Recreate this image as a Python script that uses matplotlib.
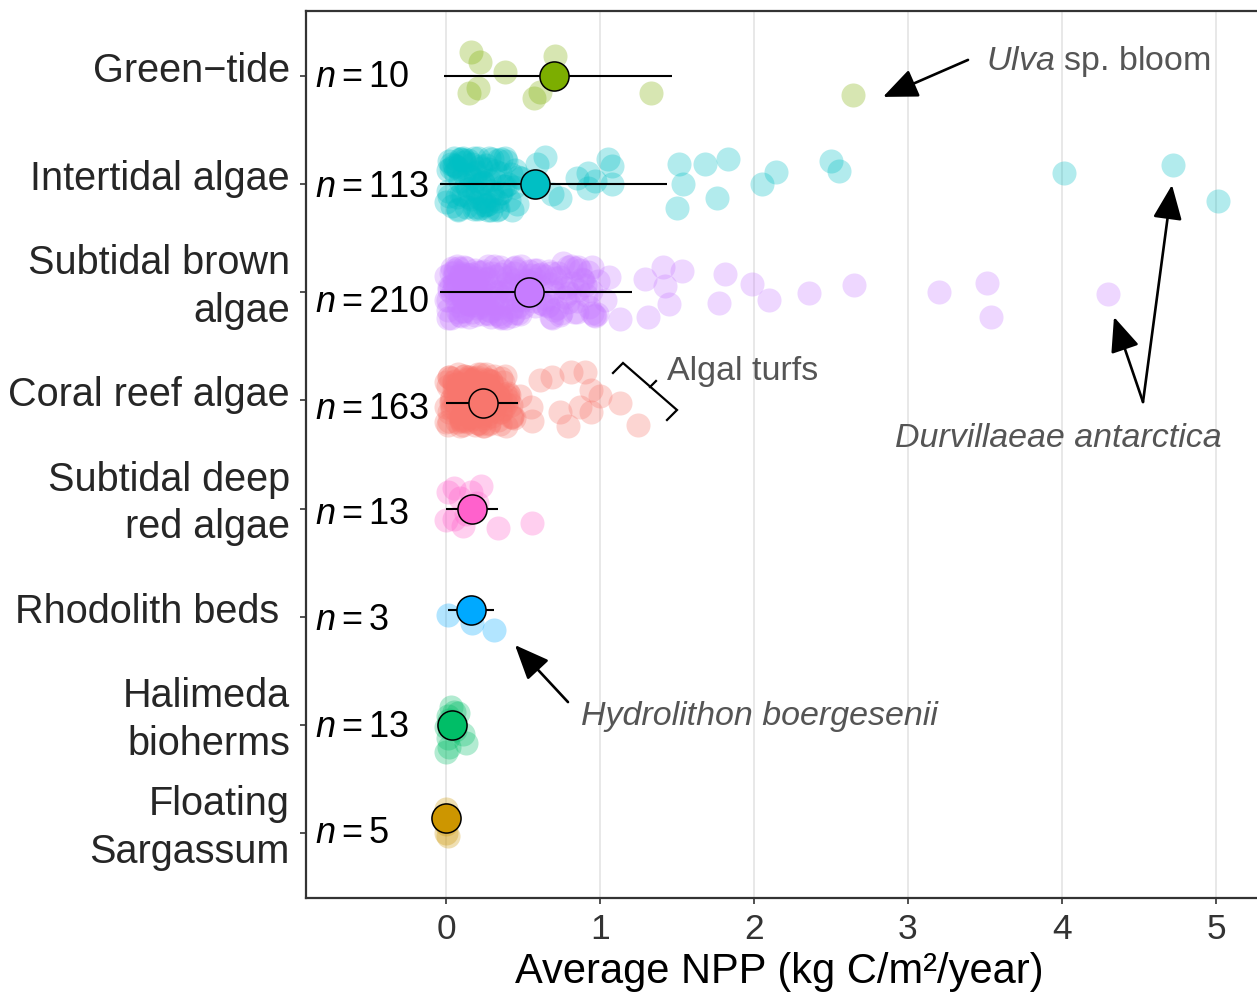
import matplotlib
matplotlib.use('Agg')
import matplotlib.pyplot as plt
import matplotlib.transforms as mtransforms

plt.rcParams['font.family'] = ['Liberation Sans', 'DejaVu Sans']
plt.rcParams['mathtext.fontset'] = 'custom'
plt.rcParams['mathtext.rm'] = 'Liberation Sans'
plt.rcParams['mathtext.it'] = 'Liberation Sans:italic'
plt.rcParams['mathtext.bf'] = 'Liberation Sans:bold'

# ---------------- data (top to bottom) ----------------
categories = ["Green\u2212tide", "Intertidal algae", "Subtidal brown\nalgae", "Coral reef algae",
              "Subtidal deep\nred algae", "Rhodolith beds ", "Halimeda\nbioherms", "Floating\nSargassum"]
n_obs = [10, 113, 210, 163, 13, 3, 13, 5]
colors = ["#7CAE00", "#00BFC4", "#C77CFF", "#F8766D", "#FF61CC", "#00A9FF", "#00BE67", "#CD9600"]
means = [0.70, 0.578, 0.54, 0.24, 0.17, 0.16, 0.04, 0.00]
ci_low = [-0.01, -0.04, -0.04, 0.00, 0.00, 0.01, 0.04, 0.00]
ci_high = [1.47, 1.435, 1.21, 0.47, 0.34, 0.31, 0.04, 0.00]
mean_nudge = [0.0, 0.0, 0.0, -0.02, 0.0, 0.065, 0.0, 0.14]

gt_npp = [0.16, 0.22, 0.38, 0.71, 0.15, 0.21, 0.57, 0.61, 1.33, 2.64]
gt_jit = [0.22, 0.13, 0.04, 0.18, -0.16, -0.11, -0.20, -0.15, -0.16, -0.18]

it_npp = [0.02, 0.15, 0.31, 0.08, 0.22, 0.44, 0.05, 0.27, 0.12, 0.36,
          0.19, 0.01, 0.33, 0.24, 0.09, 0.41, 0.17, 0.29, 0.06, 0.38,
          0.13, 0.25, 0.47, 0.03, 0.21, 0.34, 0.11, 0.28, 0.16, 0.40,
          0.07, 0.23, 0.35, 0.14, 0.30, 0.00, 0.19, 0.43, 0.26, 0.10,
          0.32, 0.04, 0.18, 0.37, 0.22, 0.12, 0.49, 0.27, 0.08, 0.20,
          0.33, 0.15, 0.02, 0.39, 0.24, 0.11, 0.29, 0.06, 0.17, 0.45,
          0.21, 0.35, 0.09, 0.26, 0.14, 0.31, 0.03, 0.42, 0.18, 0.23,
          0.07, 0.36, 0.13, 0.28, 0.01, 0.20, 0.34, 0.10, 0.25, 0.16,
          0.38, 0.05, 0.30, 0.12, 0.46, 0.22, 0.08, 0.27, 0.19,
          0.64, 0.59, 0.85, 0.92, 0.97, 1.05, 1.08, 1.08, 0.92, 0.74, 0.69,
          1.51, 1.68, 1.83, 1.54, 1.76, 1.50, 2.05, 2.14, 2.50, 2.55, 4.01, 4.72, 5.01]
it_jit = [0.21, -0.12, 0.05, -0.24, 0.17, -0.03, 0.24, -0.18, 0.09, -0.08,
          -0.21, 0.13, -0.24, 0.02, 0.23, -0.15, 0.19, -0.06, 0.11, 0.24,
          -0.01, -0.19, 0.07, 0.15, -0.23, 0.22, -0.10, 0.24, -0.14, 0.00,
          0.16, -0.22, 0.10, -0.05, 0.23, -0.17, 0.04, -0.24, 0.18, -0.09,
          0.12, -0.20, 0.24, -0.02, -0.13, 0.20, 0.06, -0.24, 0.14, -0.07,
          -0.16, 0.08, -0.11, 0.21, 0.01, 0.24, -0.24, 0.17, -0.04, 0.13,
          0.24, -0.08, 0.03, -0.19, 0.22, -0.14, 0.19, 0.09, -0.23, 0.15,
          -0.12, 0.23, -0.21, 0.04, -0.06, 0.11, -0.23, 0.23, -0.16, 0.07,
          -0.02, 0.18, -0.10, 0.22, -0.18, 0.00, -0.23, 0.14, 0.10,
          0.25, 0.19, 0.06, 0.10, 0.03, 0.23, 0.17, 0.00, -0.04, -0.13, -0.09,
          0.19, 0.19, 0.23, 0.00, -0.13, -0.22, 0.00, 0.11, 0.21, 0.12, 0.10, 0.18, -0.16]

sb_npp = [0.03, 0.18, 0.41, 0.09, 0.27, 0.55, 0.12, 0.34, 0.06, 0.22,
          0.47, 0.15, 0.01, 0.38, 0.25, 0.58, 0.10, 0.31, 0.19, 0.44,
          0.04, 0.29, 0.52, 0.13, 0.36, 0.21, 0.07, 0.49, 0.16, 0.33,
          0.00, 0.24, 0.42, 0.11, 0.57, 0.28, 0.05, 0.39, 0.17, 0.46,
          0.20, 0.08, 0.35, 0.53, 0.14, 0.30, 0.02, 0.43, 0.26, 0.11,
          0.50, 0.19, 0.37, 0.06, 0.23, 0.59, 0.15, 0.32, 0.09, 0.45,
          0.27, 0.01, 0.40, 0.12, 0.54, 0.21, 0.35, 0.07, 0.48, 0.18,
          0.30, 0.04, 0.44, 0.16, 0.25, 0.56, 0.10, 0.38, 0.22, 0.03,
          0.51, 0.14, 0.33, 0.08, 0.42, 0.26, 0.19, 0.58, 0.05, 0.36,
          0.12, 0.47, 0.23, 0.00, 0.31, 0.17, 0.54, 0.09, 0.40, 0.28,
          0.06, 0.37, 0.20, 0.49, 0.13, 0.29, 0.02, 0.45, 0.24, 0.15,
          0.57, 0.10, 0.34, 0.18, 0.43, 0.07, 0.26, 0.52, 0.11, 0.39,
          0.21, 0.03, 0.46, 0.16, 0.32, 0.08, 0.55, 0.27, 0.13, 0.41,
          0.01, 0.24, 0.50, 0.19, 0.35, 0.05, 0.29, 0.14, 0.44, 0.22,
          0.61, 0.74, 0.88, 0.66, 0.95, 0.70, 0.83, 0.62, 0.79, 0.92,
          0.68, 0.86, 0.64, 0.77, 0.99, 0.72, 0.81, 0.63, 0.90, 0.75,
          0.67, 0.85, 0.97, 0.71, 0.80, 0.60, 0.93, 0.76, 0.69, 0.84,
          0.65, 0.89, 0.73, 0.98, 0.78, 0.62, 0.87, 0.70, 0.82, 0.94,
          0.66, 0.79, 0.91, 0.74, 0.85, 0.68, 0.96,
          1.41, 1.53, 1.81, 1.99, 1.77, 2.10, 2.36, 2.65, 3.20, 3.51, 3.54, 4.30,
          1.29, 1.42, 1.45, 1.31, 1.13, 1.03, 0.95, 1.06, 0.86, 0.76, 0.68]
sb_jit = [0.18, -0.09, 0.04, -0.21, 0.13, -0.02, 0.23, -0.15, 0.08, -0.06,
          -0.19, 0.11, -0.24, 0.01, 0.20, -0.13, 0.16, -0.05, 0.09, 0.22,
          -0.01, -0.17, 0.06, 0.14, -0.23, 0.19, -0.08, 0.24, -0.12, 0.00,
          0.15, -0.20, 0.08, -0.04, 0.21, -0.16, 0.03, -0.24, 0.17, -0.07,
          0.10, -0.18, 0.23, -0.02, -0.11, 0.18, 0.05, -0.22, 0.12, -0.06,
          -0.14, 0.07, -0.10, 0.19, 0.01, 0.21, -0.23, 0.15, -0.03, 0.11,
          0.24, -0.07, 0.02, -0.17, 0.20, -0.12, 0.17, 0.08, -0.20, 0.13,
          -0.10, 0.22, -0.19, 0.03, -0.05, 0.09, -0.22, 0.20, -0.14, 0.06,
          -0.02, 0.16, -0.09, 0.22, -0.16, 0.00, -0.21, 0.12, 0.09, -0.24,
          0.04, -0.13, 0.19, -0.07, 0.24, -0.18, 0.10, -0.01, 0.14, -0.20,
          0.21, -0.04, -0.15, 0.07, 0.17, -0.23, 0.02, 0.23, -0.11, 0.12,
          -0.08, 0.18, -0.20, 0.05, -0.14, 0.24, -0.03, 0.11, -0.17, 0.08,
          0.13, -0.24, 0.20, -0.06, 0.01, -0.12, 0.16, -0.19, 0.22, -0.01,
          -0.16, 0.09, -0.07, 0.21, -0.22, 0.14, 0.03, -0.10, 0.18, -0.05,
          0.06, -0.21, 0.12, -0.13, 0.23, 0.00, -0.18, 0.17, -0.09, 0.19,
          -0.23, 0.02, 0.15, -0.04, 0.10, -0.15, 0.24, -0.11, 0.07, -0.19,
          0.20, -0.08, -0.22, 0.13, -0.01, 0.16, -0.14, 0.05, -0.24, 0.22,
          -0.06, 0.11, 0.18, -0.20, 0.04, -0.10, 0.21, -0.16, 0.09, 0.01,
          -0.12, 0.23, -0.03, 0.14, -0.18, 0.08, -0.21,
          0.23, 0.20, 0.17, 0.08, -0.10, -0.07, -0.01, 0.07, 0.00, 0.09, -0.23, -0.02,
          0.12, 0.06, -0.11, -0.23, -0.25, -0.07, -0.19, 0.14, 0.23, 0.27, 0.18]

cr_npp = [0.02, 0.14, 0.31, 0.07, 0.22, 0.40, 0.10, 0.26, 0.04, 0.18,
          0.35, 0.12, 0.00, 0.28, 0.20, 0.43, 0.08, 0.24, 0.15, 0.33,
          0.05, 0.21, 0.38, 0.11, 0.27, 0.16, 0.03, 0.36, 0.13, 0.25,
          0.01, 0.19, 0.30, 0.09, 0.42, 0.23, 0.06, 0.29, 0.14, 0.34,
          0.17, 0.07, 0.26, 0.39, 0.12, 0.22, 0.02, 0.32, 0.20, 0.10,
          0.37, 0.16, 0.28, 0.05, 0.19, 0.44, 0.12, 0.24, 0.08, 0.33,
          0.21, 0.00, 0.30, 0.10, 0.40, 0.17, 0.27, 0.06, 0.35, 0.14,
          0.23, 0.03, 0.32, 0.13, 0.20, 0.41, 0.09, 0.29, 0.18, 0.02,
          0.38, 0.11, 0.25, 0.07, 0.31, 0.21, 0.15, 0.43, 0.04, 0.27,
          0.10, 0.34, 0.19, 0.01, 0.24, 0.14, 0.39, 0.08, 0.30, 0.22,
          0.05, 0.28, 0.16, 0.36, 0.11, 0.23, 0.02, 0.33, 0.19, 0.13,
          0.42, 0.09, 0.26, 0.15, 0.31, 0.06, 0.21, 0.37, 0.10, 0.29,
          0.18, 0.03, 0.34, 0.13, 0.25, 0.07, 0.40, 0.20, 0.12, 0.30,
          0.00, 0.19, 0.36, 0.16, 0.27, 0.04, 0.23, 0.11, 0.32, 0.17,
          0.08, 0.22, 0.14, 0.29, 0.05, 0.35, 0.18, 0.26,
          0.61, 0.69, 0.81, 0.90, 0.94, 1.00, 1.13, 0.94, 0.87, 0.74, 0.79, 0.56, 1.25, 0.55, 0.48]
cr_jit = [-0.11, 0.20, -0.03, 0.15, -0.22, 0.07, -0.16, 0.24, -0.06, 0.12,
          0.02, -0.19, 0.17, -0.09, 0.22, -0.14, 0.05, -0.24, 0.19, -0.01,
          0.10, -0.21, 0.23, -0.05, 0.14, -0.17, 0.00, 0.21, -0.12, 0.08,
          -0.23, 0.16, -0.07, 0.11, -0.15, 0.24, -0.02, 0.18, -0.20, 0.04,
          0.13, -0.10, 0.20, -0.24, 0.06, -0.13, 0.22, -0.04, 0.16, -0.18,
          -0.08, 0.09, -0.21, 0.17, 0.01, -0.16, 0.23, -0.11, 0.12, -0.02,
          0.24, -0.06, 0.14, -0.19, 0.03, 0.19, -0.13, 0.07, -0.22, 0.15,
          -0.14, 0.21, -0.01, -0.18, 0.10, 0.05, -0.24, 0.18, -0.09, 0.22,
          0.06, -0.12, 0.16, -0.20, 0.23, -0.05, 0.11, -0.15, 0.02, 0.19,
          -0.17, 0.04, -0.23, 0.13, -0.08, 0.20, -0.03, 0.24, -0.14, 0.09,
          0.18, -0.22, 0.08, -0.11, 0.15, -0.01, -0.19, 0.12, 0.21, -0.07,
          -0.04, 0.14, -0.16, 0.22, -0.10, 0.03, -0.21, 0.17, -0.12, 0.10,
          0.20, -0.02, -0.18, 0.07, -0.24, 0.16, 0.00, -0.13, 0.23, -0.06,
          -0.20, 0.11, 0.05, -0.15, 0.19, -0.09, 0.13, -0.23, 0.01, 0.17,
          0.09, -0.17, 0.22, -0.05, 0.14, -0.11, 0.18, -0.08,
          0.19, 0.22, 0.26, 0.26, 0.10, 0.04, -0.02, -0.11, -0.06, -0.11, -0.24, -0.19, -0.23, -0.06, 0.04]

sd_npp = [0.01, 0.09, 0.16, 0.23, 0.00, 0.11, 0.34, 0.56, 0.05, 0.17, 0.20, 0.13, 0.05]
sd_jit = [0.15, 0.10, 0.15, 0.21, -0.11, -0.16, -0.18, -0.13, 0.19, 0.00, 0.05, -0.05, -0.10]

rb_npp = [0.01, 0.17, 0.31]
rb_jit = [0.02, -0.06, -0.12]

hb_npp = [0.03, 0.08, 0.00, 0.11, 0.13, 0.00, 0.01, 0.02, 0.05, 0.04, 0.06, 0.02, 0.01]
hb_jit = [0.17, 0.11, -0.02, -0.08, -0.17, -0.25, -0.12, 0.05, 0.12, 0.00, -0.05, -0.20, 0.08]

fs_npp = [0.00, 0.01, 0.00, 0.00, 0.01]
fs_jit = [0.22, 0.15, 0.08, 0.00, -0.03]

point_sets = [(gt_npp, gt_jit), (it_npp, it_jit), (sb_npp, sb_jit), (cr_npp, cr_jit),
              (sd_npp, sd_jit), (rb_npp, rb_jit), (hb_npp, hb_jit), (fs_npp, fs_jit)]

# ---------------- figure ----------------
W, H = 1257, 992
DPI = 100
fig = plt.figure(figsize=(W / DPI, H / DPI), dpi=DPI)
ax = fig.add_axes([306 / W, 1 - 898 / H, (1262 - 306) / W, (898 - 11) / H])

ncat = len(categories)
ypos = [ncat - i for i in range(ncat)]

for i, (vals, jit) in enumerate(point_sets):
    ys = [ypos[i] + j for j in jit]
    ax.scatter(vals, ys, s=300, color=colors[i], alpha=0.3, linewidths=0, zorder=2)

def shifted(trans, dy_px):
    # shift downward by dy_px pixels
    return trans + mtransforms.ScaledTranslation(0, -dy_px / DPI, fig.dpi_scale_trans)

n_label_drop = [11, 13, 20, 19, 15, 13, 12, 10]   # baseline offset of n labels (px)
for i in range(ncat):
    y = ypos[i] + mean_nudge[i]
    ax.plot([ci_low[i], ci_high[i]], [y, y], color='black', lw=1.5, zorder=3,
            solid_capstyle='butt')
    ax.scatter([means[i]], [y], s=440, color=colors[i], edgecolors='black',
               linewidths=1.1, zorder=4)
    ax.text(-0.85, ypos[i], r'$n=%d$' % n_obs[i], ha='left', va='baseline',
            fontsize=26, color='black', zorder=5,
            transform=shifted(ax.transData, n_label_drop[i]))

# category labels (drawn line by line to match spacing)
lab_trans = mtransforms.blended_transform_factory(fig.transFigure, ax.transData)
line_gap = 47.5
for i, lab in enumerate(categories):
    lines = lab.split('\n')
    L = len(lines)
    for k, line in enumerate(lines):
        drop = 6 + (k - (L - 1) / 2) * line_gap
        fig.text(290 / W, ypos[i], line, ha='right', va='baseline', fontsize=28.5,
                 color='#262626', transform=shifted(lab_trans, drop))

ax.set_xlim(-0.909, (1262 - 446) / 154)
ax.set_ylim(0.4, 8.6)
ax.set_xticks([0, 1, 2, 3, 4, 5])
ax.set_xticklabels(['0', '1', '2', '3', '4', '5'])
ax.set_yticks(ypos)
ax.set_yticklabels([])
ax.tick_params(axis='y', length=4.5, width=1.2, color='#333333')
ax.tick_params(axis='x', length=4.5, width=1.2, color='#333333', pad=6,
               labelsize=25.5, labelcolor='#333333')
ax.grid(axis='x', color='#e6e6e6', lw=1.3, zorder=0)
ax.set_axisbelow(True)
for side in ['left', 'top', 'bottom']:
    ax.spines[side].set_color('#333333')
    ax.spines[side].set_linewidth(1.6)
ax.spines['right'].set_visible(False)

fig.text(779 / W, 1 - 983 / H, 'Average NPP (kg C/m\u00b2/year)', ha='center',
         va='baseline', fontsize=30, color='black')

# ---------------- annotations ----------------
def px(x, y):
    return ((x - 446) / 154, 8 - (y - 76) / 108.14)

arrow_kw = dict(arrowstyle='-|>,head_length=0.85,head_width=0.36', lw=1.9,
                color='black', shrinkA=0, shrinkB=0, mutation_scale=25)
ann_color = '#555555'
ann_size = 24.5

ax.annotate('', xy=px(883, 97), xytext=px(968, 60), arrowprops=arrow_kw, zorder=6)
ax.text(*px(986, 62), r'$\mathit{Ulva}$ sp. bloom', fontsize=ann_size, color=ann_color,
        ha='left', va='center')

ax.annotate('', xy=px(515, 645), xytext=px(568, 702), arrowprops=arrow_kw, zorder=6)
ax.text(*px(581, 716), 'Hydrolithon boergesenii', fontsize=ann_size, color=ann_color,
        ha='left', va='center', style='italic')

ax.annotate('', xy=px(1114, 317), xytext=px(1143, 402), arrowprops=arrow_kw, zorder=6)
ax.annotate('', xy=px(1172, 185), xytext=px(1143, 402), arrowprops=arrow_kw, zorder=6)
ax.text(*px(895, 438), 'Durvillaeae antarctica', fontsize=ann_size, color=ann_color,
        ha='left', va='center', style='italic')

bx, by = zip(*[px(613, 373), px(623, 363), px(677, 410), px(667, 420)])
ax.plot(bx, by, color='black', lw=1.6, zorder=6, solid_joinstyle='miter')
tx, ty = zip(*[px(650, 387), px(656, 381)])
ax.plot(tx, ty, color='black', lw=1.6, zorder=6)
ax.text(*px(667, 372), 'Algal turfs', fontsize=ann_size, color=ann_color,
        ha='left', va='center')

fig.savefig('out.png', dpi=DPI)
